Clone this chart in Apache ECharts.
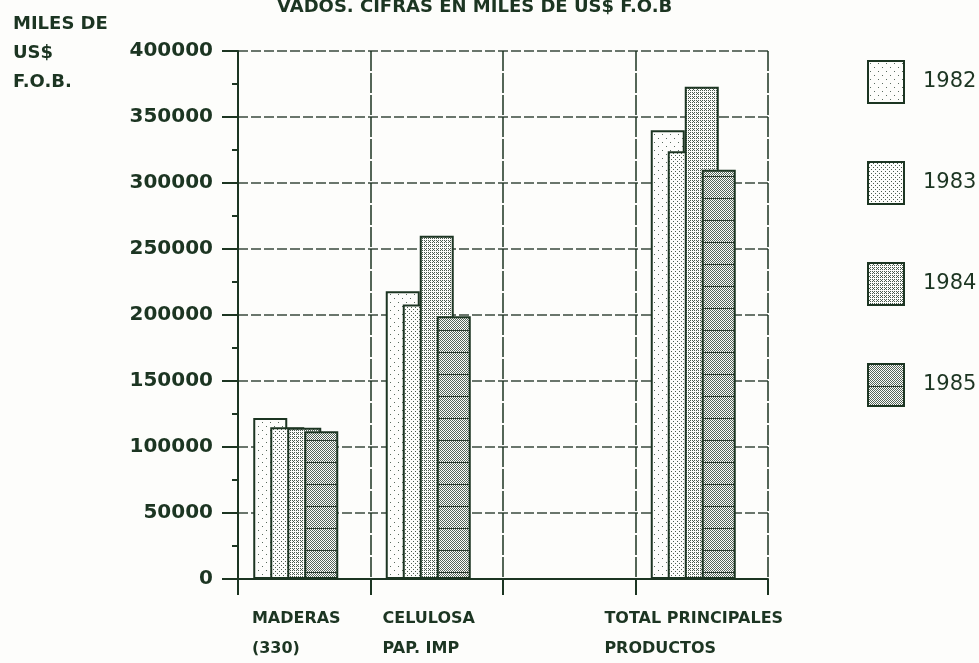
<!DOCTYPE html>
<html>
<head>
<meta charset="utf-8">
<script src="https://cdn.jsdelivr.net/npm/echarts@6/dist/echarts.min.js"></script>
<style>
  html, body { margin: 0; padding: 0; background: #fdfdfb; }
  #main { width: 979px; height: 663px; }
</style>
</head>
<body>
<div id="main"></div>
<script>
// datos
const categorias = ["MADERAS\n(330)", "CELULOSA\nPAP. IMP", "", "TOTAL PRINCIPALES\nPRODUCTOS"];
const anios = ["1982", "1983", "1984", "1985"];
const v1982 = [122000, 218000, null, 340000];
const v1983 = [115000, 208000, null, 324000];
const v1984 = [114500, 260000, null, 373000];
const v1985 = [112000, 199000, null, 310000];
const ticksY = [0, 50000, 100000, 150000, 200000, 250000, 300000, 350000, 400000];

const tinta = "#1c3522";

// tramas de puntos para cada año
function trama(w, h, punto, dibujar) {
  const c = document.createElement("canvas");
  c.width = w;
  c.height = h;
  const ctx = c.getContext("2d");
  ctx.fillStyle = "#fdfdfb";
  ctx.fillRect(0, 0, w, h);
  ctx.fillStyle = punto;
  dibujar(ctx);
  return { image: c, repeat: "repeat" };
}

const tramas = [
  trama(8, 8, "#5a6a5e", (ctx) => {
    ctx.fillRect(2, 2, 1, 1);
    ctx.fillRect(6, 6, 1, 1);
  }),
  trama(4, 4, "#4a5a4e", (ctx) => {
    ctx.fillRect(1, 1, 1, 1);
    ctx.fillRect(3, 3, 1, 1);
  }),
  trama(4, 4, "#4a5a4e", (ctx) => {
    ctx.fillRect(0, 0, 1, 1);
    ctx.fillRect(2, 0, 1, 1);
    ctx.fillRect(1, 1, 1, 1);
    ctx.fillRect(0, 2, 1, 1);
    ctx.fillRect(2, 2, 1, 1);
  }),
  trama(4, 22, "#55655a", (ctx) => {
    for (let y = 0; y < 22; y++) {
      for (let x = y % 2; x < 4; x += 2) ctx.fillRect(x, y, 1, 1);
    }
    ctx.fillStyle = "#2a3a2e";
    ctx.fillRect(0, 0, 4, 1);
  }),
];

const valores = [v1982, v1983, v1984, v1985];

const series = anios.map((a, i) => ({
  name: a,
  type: "bar",
  data: valores[i],
  barWidth: 34,
  barGap: "-50%",
  itemStyle: {
    color: tramas[i],
    borderColor: tinta,
    borderWidth: 2,
  },
}));
// hueco reservado a la derecha del grupo (como en el original)
series.push({ name: "_", type: "bar", data: [], barWidth: 34, barGap: "-50%" });

const chart = echarts.init(document.getElementById("main"));

chart.setOption({
  backgroundColor: "#fdfdfb",
  animation: false,
  title: [
    {
      text: "VADOS. CIFRAS EN MILES DE US$ F.O.B",
      left: 277,
      top: -2,
      padding: 0,
      textStyle: { color: tinta, fontFamily: "DejaVu Sans", fontWeight: "bold", fontSize: 18 },
    },
    {
      text: "MILES DE\nUS$\nF.O.B.",
      left: 13,
      top: 10,
      padding: 0,
      textStyle: { color: tinta, fontFamily: "DejaVu Sans", fontWeight: "bold", fontSize: 18, lineHeight: 29 },
    },
  ],
  legend: {
    data: anios,
    orient: "vertical",
    left: 867,
    top: 60,
    padding: 0,
    itemWidth: 36,
    itemHeight: 42,
    itemGap: 57,
    icon: "rect",
    textStyle: { color: tinta, fontFamily: "DejaVu Sans", fontSize: 21, padding: [0, 0, 0, 14] },
  },
  grid: { left: 238, right: 211, top: 51, bottom: 84 },
  xAxis: {
    type: "category",
    data: categorias,
    axisLine: { lineStyle: { color: tinta, width: 2 } },
    axisTick: { show: true, length: 16, lineStyle: { color: tinta, width: 2 } },
    splitLine: { show: true, lineStyle: { color: tinta, width: 1.5, type: [20, 2] } },
    axisLabel: {
      interval: 0,
      margin: 25,
      padding: [0, 16, 0, 0],
      formatter: (v) => (v ? v.split("\n").map((l) => "{a|" + l + "}").join("\n") : ""),
      rich: {
        a: {
          align: "left",
          color: tinta,
          fontFamily: "DejaVu Sans",
          fontWeight: "bold",
          fontSize: 16,
          lineHeight: 30,
        },
      },
    },
  },
  yAxis: {
    type: "value",
    min: ticksY[0],
    max: ticksY[ticksY.length - 1],
    interval: ticksY[1] - ticksY[0],
    axisLine: { show: true, lineStyle: { color: tinta, width: 2 } },
    axisTick: { show: true, length: 16, lineStyle: { color: tinta, width: 2 } },
    minorTick: { show: true, splitNumber: 2, length: 6, lineStyle: { color: tinta, width: 2 } },
    splitLine: { show: true, lineStyle: { color: "#3a4a3e", width: 1.5, type: [10, 3] } },
    axisLabel: {
      margin: 25,
      color: tinta,
      fontFamily: "DejaVu Sans",
      fontWeight: "bold",
      fontSize: 20,
      formatter: (v) => String(v),
    },
  },
  series: series,
});
</script>
</body>
</html>
